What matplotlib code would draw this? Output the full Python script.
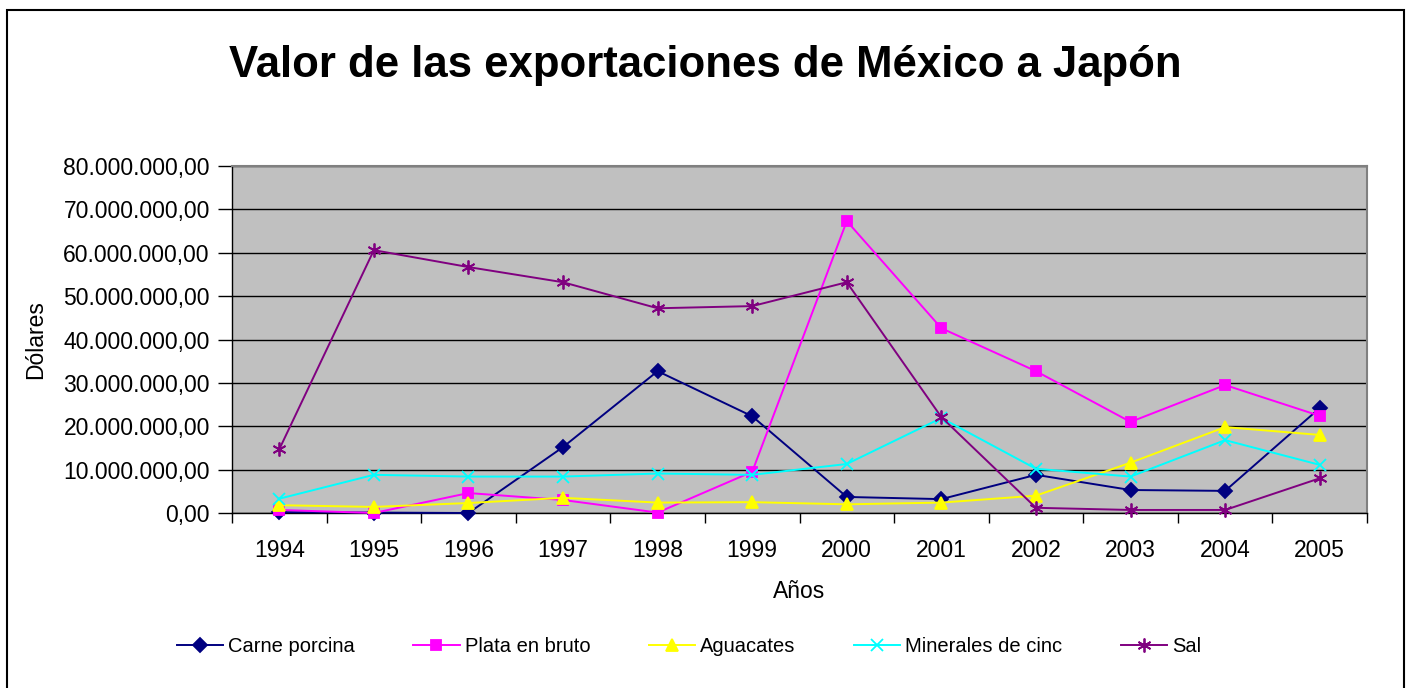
import matplotlib
matplotlib.use("Agg")
import matplotlib.pyplot as plt
from matplotlib.ticker import FuncFormatter, FixedLocator
from matplotlib.patches import Rectangle

plt.rcParams['font.family'] = ['Liberation Sans', 'DejaVu Sans']

years = ['1994', '1995', '1996', '1997', '1998', '1999',
         '2000', '2001', '2002', '2003', '2004', '2005']

carne_porcina = [200000, 100000, 0, 15200000, 32700000, 22300000,
                 3700000, 3200000, 8800000, 5300000, 5100000, 24200000]
plata_en_bruto = [700000, 0, 4600000, 3000000, 100000, 9500000,
                  67300000, 42600000, 32700000, 21000000, 29500000, 22400000]
aguacates = [1800000, 1400000, 2300000, 3500000, 2400000, 2500000,
             2000000, 2400000, 4000000, 11600000, 19800000, 18000000]
minerales_cinc = [3300000, 8800000, 8400000, 8400000, 9100000, 8800000,
                  11300000, 21900000, 10200000, 8400000, 16800000, 11100000]
sal = [14700000, 60600000, 56700000, 53200000, 47200000, 47700000,
       53200000, 22100000, 1200000, 700000, 700000, 8000000]

series = [
    ("Carne porcina", carne_porcina, "#000080", "D", 7),
    ("Plata en bruto", plata_en_bruto, "#FF00FF", "s", 7),
    ("Aguacates", aguacates, "#FFFF00", "^", 9),
    ("Minerales de cinc", minerales_cinc, "#00FFFF", "x", 8),
    ("Sal", sal, "#800080", (6, 2, 0), 10),
]

W, H = 1411, 688
fig = plt.figure(figsize=(W / 100, H / 100), dpi=100)
fig.patch.set_facecolor("white")
ax = fig.add_axes([232 / W, (H - 513) / H, 1135 / W, 347 / H])
ax.set_facecolor("#C0C0C0")

x = list(range(len(years)))
for name, vals, color, marker, ms in series:
    ax.plot(x, vals, color=color, lw=1.4, marker=marker, markersize=ms,
            markeredgewidth=1.3, label=name, clip_on=False, zorder=3)

ax.set_xlim(-0.5, len(years) - 0.5)
ax.set_ylim(0, 80000000)
ax.set_yticks(range(0, 80000001, 10000000))
ax.yaxis.grid(True, color="black", lw=1.0)
ax.set_axisbelow(True)


def fmt(v, pos):
    s = "{:,.2f}".format(v)
    return s.replace(",", "X").replace(".", ",").replace("X", ".")


ax.yaxis.set_major_formatter(FuncFormatter(fmt))
ax.tick_params(axis="y", labelsize=16.5, length=10, width=1, direction="out", pad=6)

# category boundaries get ticks, labels sit in between
ax.xaxis.set_major_locator(FixedLocator([i - 0.5 for i in range(len(years) + 1)]))
ax.xaxis.set_minor_locator(FixedLocator(x))
ax.set_xticklabels([])
ax.set_xticklabels(years, minor=True)
ax.tick_params(axis="x", which="major", length=7, width=1, direction="out")
ax.tick_params(axis="x", which="minor", length=0, labelsize=16.5, pad=19)

for side in ["top", "right"]:
    ax.spines[side].set_color("#808080")
    ax.spines[side].set_linewidth(1.5)
for side in ["left", "bottom"]:
    ax.spines[side].set_color("black")
    ax.spines[side].set_linewidth(1.0)

ax.set_ylabel("Dólares", fontsize=16.5)
ax.yaxis.set_label_coords(-0.163, 0.5)
ax.set_xlabel("Años", fontsize=16.5)
ax.xaxis.set_label_coords(0.5, -0.193)

fig.text(0.5, (H - 66) / H, "Valor de las exportaciones de México a Japón",
         fontsize=31.5, fontweight="bold", ha="center", va="center")

fig.legend(loc="center", bbox_to_anchor=(689 / W, (H - 647) / H), ncol=5,
           frameon=False, fontsize=14.5, handlelength=2.3, handletextpad=0.25,
           columnspacing=2.9)

fig.patches.append(Rectangle((7 / W, -0.1), 1397 / W, (H - 10) / H + 0.1,
                             transform=fig.transFigure, fill=False,
                             edgecolor="black", lw=1.5))

fig.savefig("out.png", dpi=100)
